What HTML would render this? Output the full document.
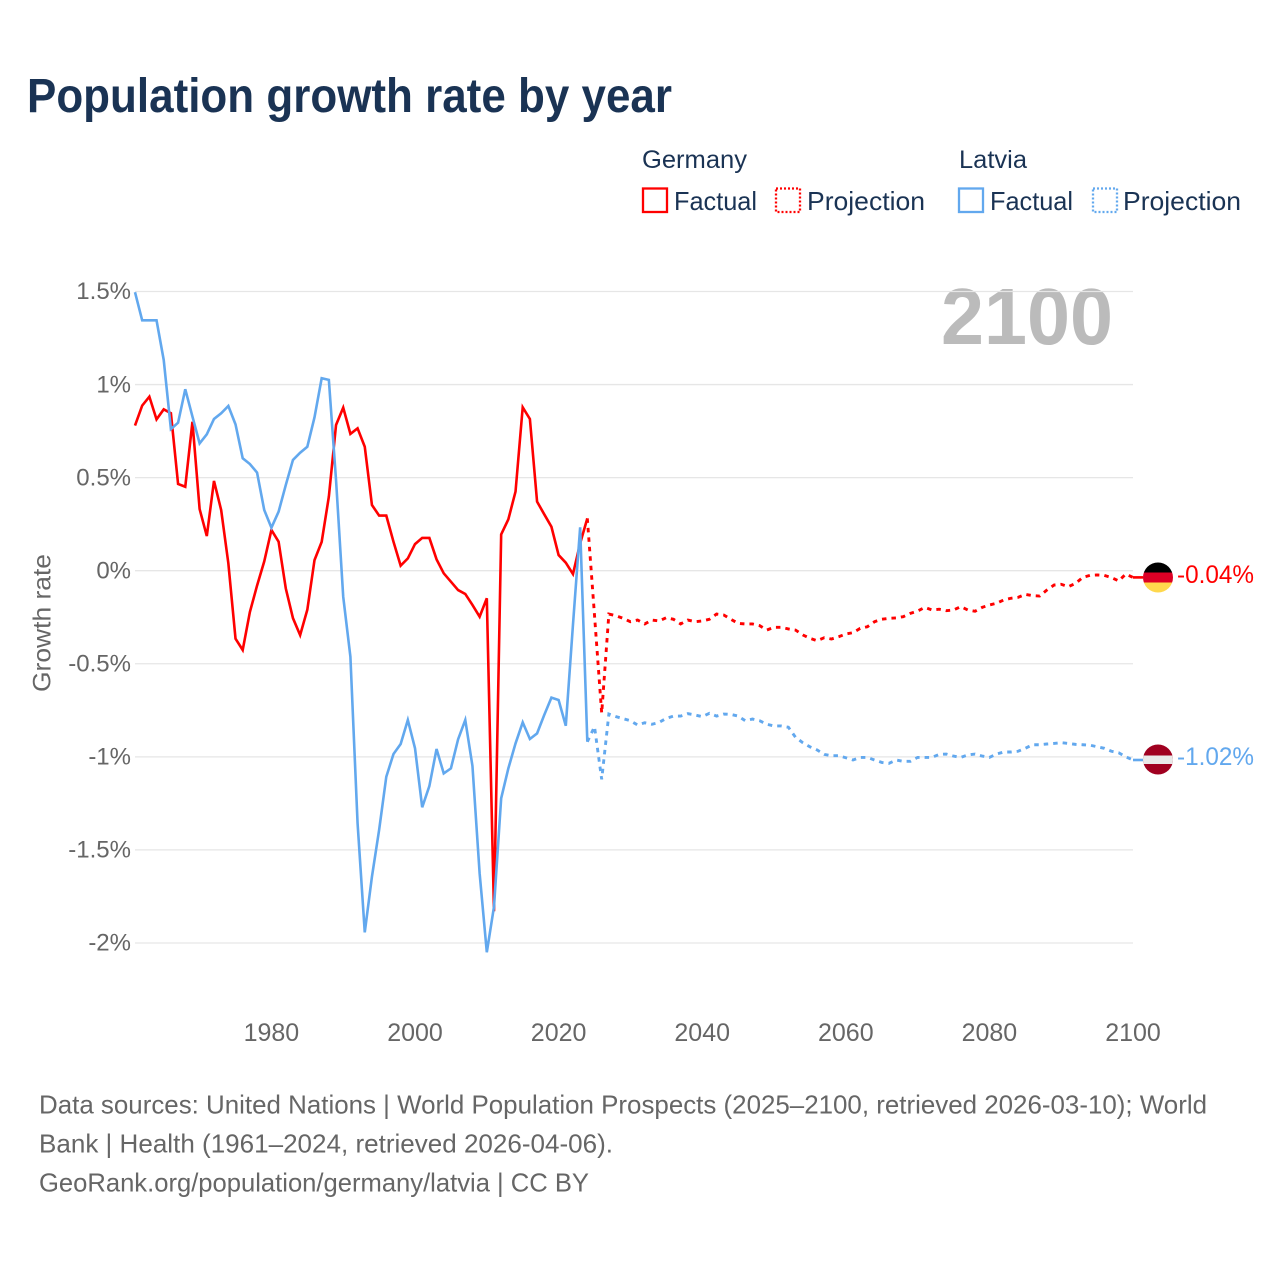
<!DOCTYPE html>
<html lang="en">
<head>
<meta charset="utf-8">
<title>Population growth rate by year</title>
<style>
html,body{margin:0;padding:0;background:#fff;width:1280px;height:1280px;overflow:hidden}
svg{display:block}
text{font-family:"Liberation Sans",sans-serif}
</style>
</head>
<body>
<svg id="chart" xmlns="http://www.w3.org/2000/svg" width="1280" height="1280" viewBox="0 0 1280 1280">
  <rect x="0" y="0" width="1280" height="1280" fill="#ffffff"/>
  <text x="27" y="112" font-size="48" font-weight="700" fill="#1a3354" textLength="645" lengthAdjust="spacingAndGlyphs">Population growth rate by year</text>

  <g>
    <text x="642" y="168" font-size="25" fill="#1a3354" textLength="105" lengthAdjust="spacingAndGlyphs">Germany</text>
    <text x="959" y="168" font-size="25" fill="#1a3354" textLength="68" lengthAdjust="spacingAndGlyphs">Latvia</text>
    <g>
      <rect x="643" y="188.500" width="24" height="23.500" fill="none" stroke="#ff0000" stroke-width="2.300"/>
      <text x="674" y="210" font-size="26" fill="#1a3354" textLength="83" lengthAdjust="spacingAndGlyphs">Factual</text>
    </g>
    <g>
      <rect x="776" y="188.500" width="24" height="23.500" fill="none" stroke="#ff0000" stroke-width="2.300" stroke-dasharray="2 2"/>
      <text x="807" y="210" font-size="26" fill="#1a3354" textLength="118" lengthAdjust="spacingAndGlyphs">Projection</text>
    </g>
    <g>
      <rect x="959" y="188.500" width="24" height="23.500" fill="none" stroke="#62a8ee" stroke-width="2.300"/>
      <text x="990" y="210" font-size="26" fill="#1a3354" textLength="83" lengthAdjust="spacingAndGlyphs">Factual</text>
    </g>
    <g>
      <rect x="1093" y="188.500" width="24" height="23.500" fill="none" stroke="#62a8ee" stroke-width="2.300" stroke-dasharray="2 2"/>
      <text x="1123" y="210" font-size="26" fill="#1a3354" textLength="118" lengthAdjust="spacingAndGlyphs">Projection</text>
    </g>
  </g>

  <text x="941" y="344" font-size="80" font-weight="700" fill="#bbbbbb" textLength="172" lengthAdjust="spacingAndGlyphs">2100</text>
  <text transform="translate(50.500 623) rotate(-90)" text-anchor="middle" font-size="25" fill="#666666" textLength="138" lengthAdjust="spacingAndGlyphs">Growth rate</text>

  <g id="grid"></g>
  <g id="y-ticks"></g>
  <g id="x-ticks"></g>
  <g id="series"></g>

  <defs>
    <clipPath id="flag-clip-de"><circle cx="1158" cy="577.500" r="15"/></clipPath>
    <clipPath id="flag-clip-lv"><circle cx="1158" cy="759.500" r="15"/></clipPath>
  </defs>
  <g id="flag-germany" clip-path="url(#flag-clip-de)">
    <rect x="1143" y="562.500" width="30" height="10" fill="#000000"/>
    <rect x="1143" y="572.500" width="30" height="10" fill="#dd0025"/>
    <rect x="1143" y="582.500" width="30" height="10" fill="#ffd84d"/>
  </g>
  <g id="flag-latvia" clip-path="url(#flag-clip-lv)">
    <rect x="1143" y="744.500" width="30" height="30" fill="#a00020"/>
    <rect x="1143" y="755.500" width="30" height="8.500" fill="#e9e9e9"/>
  </g>
  <text x="1177" y="583" font-size="25" fill="#ff0000" textLength="77" lengthAdjust="spacingAndGlyphs">-0.04%</text>
  <text x="1177" y="765" font-size="25" fill="#62a8ee" textLength="77" lengthAdjust="spacingAndGlyphs">-1.02%</text>

  <g>
    <text x="39" y="1113.500" font-size="26" fill="#666666" textLength="1168" lengthAdjust="spacingAndGlyphs">Data sources: United Nations | World Population Prospects (2025–2100, retrieved 2026-03-10); World</text>
    <text x="39" y="1152.500" font-size="26" fill="#666666" textLength="574" lengthAdjust="spacingAndGlyphs">Bank | Health (1961–2024, retrieved 2026-04-06).</text>
    <text x="39" y="1191.500" font-size="26" fill="#666666" textLength="550" lengthAdjust="spacingAndGlyphs">GeoRank.org/population/germany/latvia | CC BY</text>
  </g>
</svg>
<script>
const yTickValues = [1.5, 1, 0.5, 0, -0.5, -1, -1.5, -2];
const yTickLabels = ['1.5%', '1%', '0.5%', '0%', '-0.5%', '-1%', '-1.5%', '-2%'];
const xTickYears = [1980, 2000, 2020, 2040, 2060, 2080, 2100];
const factualStartYear = 1961;
const projectionStartYear = 2024;
const germanyFactual = [0.78,0.887,0.935,0.813,0.867,0.846,0.466,0.451,0.80,0.331,0.186,0.482,0.326,0.04,-0.365,-0.426,-0.222,-0.08,0.05,0.219,0.156,-0.095,-0.255,-0.346,-0.21,0.057,0.155,0.398,0.783,0.876,0.735,0.765,0.666,0.353,0.296,0.296,0.156,0.027,0.066,0.143,0.176,0.176,0.061,-0.014,-0.059,-0.104,-0.125,-0.184,-0.247,-0.148,-1.83,0.195,0.276,0.425,0.878,0.815,0.371,0.303,0.236,0.084,0.043,-0.018,0.147,0.281];
const germanyProjection = [0.281,-0.24,-0.765,-0.233,-0.242,-0.256,-0.274,-0.265,-0.286,-0.265,-0.27,-0.252,-0.261,-0.286,-0.265,-0.274,-0.27,-0.261,-0.233,-0.238,-0.261,-0.283,-0.286,-0.286,-0.295,-0.319,-0.304,-0.304,-0.313,-0.319,-0.345,-0.363,-0.376,-0.36,-0.367,-0.355,-0.34,-0.333,-0.31,-0.301,-0.274,-0.261,-0.256,-0.254,-0.247,-0.229,-0.217,-0.197,-0.211,-0.207,-0.215,-0.211,-0.193,-0.211,-0.218,-0.197,-0.184,-0.175,-0.157,-0.148,-0.143,-0.127,-0.134,-0.136,-0.104,-0.077,-0.073,-0.086,-0.068,-0.036,-0.025,-0.023,-0.025,-0.037,-0.055,-0.018,-0.036];
const latviaFactual = [1.496,1.345,1.345,1.345,1.132,0.761,0.795,0.975,0.828,0.684,0.733,0.815,0.846,0.885,0.786,0.604,0.573,0.527,0.326,0.231,0.317,0.46,0.595,0.634,0.666,0.824,1.034,1.025,0.487,-0.14,-0.462,-1.357,-1.943,-1.644,-1.393,-1.107,-0.985,-0.931,-0.802,-0.954,-1.271,-1.157,-0.958,-1.089,-1.062,-0.906,-0.802,-1.049,-1.626,-2.05,-1.805,-1.223,-1.062,-0.928,-0.815,-0.904,-0.874,-0.775,-0.682,-0.695,-0.833,-0.29,0.233,-0.919];
const latviaProjection = [-0.919,-0.838,-1.121,-0.77,-0.784,-0.795,-0.806,-0.829,-0.817,-0.825,-0.815,-0.793,-0.781,-0.781,-0.768,-0.775,-0.784,-0.766,-0.781,-0.77,-0.772,-0.781,-0.806,-0.797,-0.806,-0.825,-0.834,-0.834,-0.841,-0.895,-0.924,-0.946,-0.963,-0.987,-0.994,-0.994,-1.005,-1.017,-1.003,-1.003,-1.017,-1.03,-1.035,-1.017,-1.024,-1.024,-1.003,-1.003,-1.003,-0.987,-0.985,-0.996,-1.003,-0.99,-0.985,-0.996,-1.003,-0.985,-0.974,-0.974,-0.97,-0.954,-0.935,-0.935,-0.931,-0.928,-0.924,-0.928,-0.933,-0.935,-0.937,-0.946,-0.954,-0.97,-0.978,-1.0,-1.017];

const SVGNS = 'http://www.w3.org/2000/svg';
const plotLeft = 135, plotRight = 1133, yearMin = 1961, yearMax = 2100;
const zeroY = 570.7, pxPerUnit = 186.14, markerEdge = 1143;
function xScale(year) { return plotLeft + (year - yearMin) * (plotRight - plotLeft) / (yearMax - yearMin); }
function yScale(value) { return zeroY - value * pxPerUnit; }
function pathFrom(values, startYear) {
  return values.map(function (v, i) {
    return (i ? 'L' : 'M') + xScale(startYear + i).toFixed(2) + ' ' + yScale(v).toFixed(2);
  }).join(' ');
}

const grid = document.getElementById('grid');
const yTicks = document.getElementById('y-ticks');
yTickValues.forEach(function (value, i) {
  const line = document.createElementNS(SVGNS, 'line');
  line.setAttribute('x1', plotLeft);
  line.setAttribute('x2', plotRight);
  line.setAttribute('y1', yScale(value));
  line.setAttribute('y2', yScale(value));
  line.setAttribute('stroke', '#e6e6e6');
  line.setAttribute('stroke-width', '1.3');
  
  
  grid.appendChild(line);
  const label = document.createElementNS(SVGNS, 'text');
  label.setAttribute('x', 131);
  label.setAttribute('y', yScale(value) + 7.7);
  label.setAttribute('text-anchor', 'end');
  label.setAttribute('font-size', '24');
  label.setAttribute('fill', '#666666');
  label.textContent = yTickLabels[i];
  
  
  yTicks.appendChild(label);
});

const xTicks = document.getElementById('x-ticks');
xTickYears.forEach(function (year) {
  const label = document.createElementNS(SVGNS, 'text');
  label.setAttribute('x', xScale(year));
  label.setAttribute('y', 1041);
  label.setAttribute('text-anchor', 'middle');
  label.setAttribute('font-size', '25');
  label.setAttribute('fill', '#666666');
  label.textContent = String(year);
  
  
  xTicks.appendChild(label);
});

const series = document.getElementById('series');
function drawLine(d, color, dashed, name) {
  const p = document.createElementNS(SVGNS, 'path');
  p.setAttribute('d', d);
  p.setAttribute('fill', 'none');
  p.setAttribute('stroke', color);
  p.setAttribute('stroke-width', dashed ? '2.9' : '2.6');
  if (dashed) p.setAttribute('stroke-dasharray', '4.5 5');
  
  
  series.appendChild(p);
}
function connector(values) {
  const last = yScale(values[values.length - 1]);
  return 'M' + plotRight + ' ' + last.toFixed(2) + ' L' + markerEdge + ' ' + last.toFixed(2);
}
drawLine(pathFrom(germanyFactual, factualStartYear), '#ff0000', false, 'germany-factual-line');
drawLine(pathFrom(germanyProjection, projectionStartYear), '#ff0000', true, 'germany-projection-line');
drawLine(connector(germanyProjection), '#ff0000', false, 'germany-marker-connector');
drawLine(pathFrom(latviaFactual, factualStartYear), '#62a8ee', false, 'latvia-factual-line');
drawLine(pathFrom(latviaProjection, projectionStartYear), '#62a8ee', true, 'latvia-projection-line');
drawLine(connector(latviaProjection), '#62a8ee', false, 'latvia-marker-connector');
</script>
</body>
</html>
